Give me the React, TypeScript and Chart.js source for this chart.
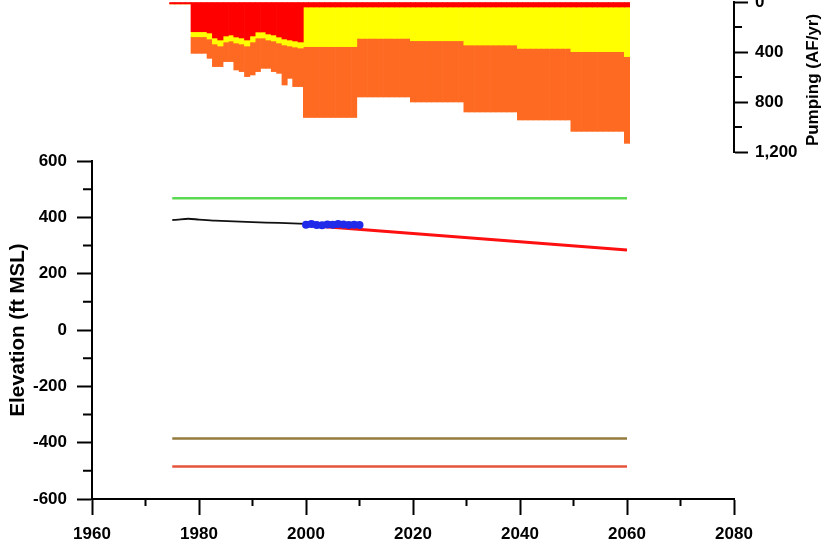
import React, { useEffect, useRef } from 'react';
import { Chart, registerables } from 'chart.js';

Chart.register(...registerables);

// ---------- Pumping (top panel), AF/yr per year, stacked ----------
const pumpYears: number[] = [];
for (let y = 1975; y <= 2060; y++) pumpYears.push(y);

const redPumping = [
  15, 15, 15, 15,
  238, 238, 238, 248, 288, 304, 272, 264, 280, 288, 304, 272, 240, 240, 256, 264, 280, 296, 304, 312, 320,
  40, 40, 40, 40, 40, 40, 40, 40, 40, 40,
  40, 40, 40, 40, 40, 40, 40, 40, 40, 40,
  40, 40, 40, 40, 40, 40, 40, 40, 40, 40,
  40, 40, 40, 40, 40, 40, 40, 40, 40, 40,
  40, 40, 40, 40, 40, 40, 40, 40, 40, 40,
  40, 40, 40, 40, 40, 40, 40, 40, 40, 40,
  40,
];
const yellowPumping = [
  0, 0, 0, 0,
  40, 40, 40, 48, 48, 48, 48, 48, 48, 48, 48, 48, 48, 48, 48, 48, 48, 48, 48, 48, 48,
  317, 317, 317, 317, 317, 317, 317, 317, 317, 317,
  251, 251, 251, 251, 251, 251, 251, 251, 251, 251,
  270, 270, 270, 270, 270, 270, 270, 270, 270, 270,
  304, 304, 304, 304, 304, 304, 304, 304, 304, 304,
  331, 331, 331, 331, 331, 331, 331, 331, 331, 331,
  357, 357, 357, 357, 357, 357, 357, 357, 357, 357,
  397,
];
const orangePumping = [
  0, 0, 0, 0,
  133, 133, 133, 155, 181, 165, 157, 165, 216, 221, 245, 264, 269, 243, 227, 245, 243, 320, 259, 317, 309,
  567, 567, 567, 567, 567, 567, 567, 567, 567, 567,
  469, 469, 469, 469, 469, 469, 469, 469, 469, 469,
  490, 490, 490, 490, 490, 490, 490, 490, 490, 490,
  536, 536, 536, 536, 536, 536, 536, 536, 536, 536,
  573, 573, 573, 573, 573, 573, 573, 573, 573, 573,
  638, 638, 638, 638, 638, 638, 638, 638, 638, 638,
  694,
];
const pumpMinorTicks = [200, 600, 1000];

// ---------- Elevation (bottom panel), ft MSL ----------
const histYears = [1975, 1976, 1978, 1980, 1983, 1990, 1995, 2000];
const histElev = [390, 392, 395, 392, 388, 383, 380, 377];

const obsYears = [2000, 2001, 2002, 2003, 2004, 2005, 2006, 2007, 2008, 2009, 2010];
const obsElev = [374, 376, 373, 372, 375, 374, 376, 375, 373, 374, 373];

const projYears = [2000, 2060];
const projElev = [372, 284];

const refYears = [1975, 2060];
const greenElev = [468, 468];
const brownElev = [-385, -385];
const orangeElev = [-485, -485];

const elevMinorTicks = [-500, -300, -100, 100, 300, 500];
const yearMinorTicks = [1970, 1990, 2010, 2030, 2050, 2070];

const FONT = "'Liberation Sans', Arial, Helvetica, sans-serif";

const pts = (xs: number[], ys: number[]) => xs.map((x, i) => ({ x, y: ys[i] }));

const minorTicks = (axisId: string, values: number[], len: number) => ({
  id: 'minor_' + axisId,
  afterDraw(chart: any) {
    const s = chart.scales[axisId];
    const a = chart.chartArea;
    const ctx = chart.ctx;
    ctx.save();
    ctx.strokeStyle = '#000';
    ctx.lineWidth = 2;
    ctx.beginPath();
    for (const v of values) {
      const p = s.getPixelForValue(v);
      if (s.isHorizontal()) {
        ctx.moveTo(p, a.bottom);
        ctx.lineTo(p, a.bottom + len);
      } else if (s.position === 'left') {
        ctx.moveTo(a.left - len, p);
        ctx.lineTo(a.left, p);
      } else {
        ctx.moveTo(a.right, p);
        ctx.lineTo(a.right + len, p);
      }
    }
    ctx.stroke();
    ctx.restore();
  },
});

const pumpTitle = {
  id: 'pumpTitle',
  afterDraw(chart: any) {
    const ctx = chart.ctx;
    const a = chart.chartArea;
    ctx.save();
    ctx.translate(813, (a.top + a.bottom) / 2 + 3);
    ctx.rotate(-Math.PI / 2);
    ctx.font = `bold 17px ${FONT}`;
    ctx.fillStyle = '#000';
    ctx.textAlign = 'center';
    ctx.textBaseline = 'middle';
    ctx.fillText('Pumping (AF/yr)', 0, 0);
    ctx.restore();
  },
};

export default function App() {
  const topRef = useRef<HTMLCanvasElement>(null);
  const botRef = useRef<HTMLCanvasElement>(null);

  useEffect(() => {
    const top = new Chart(topRef.current as HTMLCanvasElement, {
      type: 'bar',
      data: {
        datasets: [
          { label: 'Pumping A', data: pts(pumpYears, redPumping), backgroundColor: '#FF0000' },
          { label: 'Pumping B', data: pts(pumpYears, yellowPumping), backgroundColor: '#FFFF00' },
          { label: 'Pumping C', data: pts(pumpYears, orangePumping), backgroundColor: '#FF6A22' },
        ] as any,
      },
      options: {
        animation: false,
        responsive: false,
        layout: { padding: { left: 92, top: 2, right: 0, bottom: 18 } },
        plugins: { legend: { display: false }, tooltip: { enabled: false } },
        datasets: { bar: { barPercentage: 1, categoryPercentage: 1, borderWidth: 0 } } as any,
        scales: {
          x: { type: 'linear', min: 1960, max: 2080, display: false, stacked: true, offset: false },
          y: {
            position: 'right',
            reverse: true,
            min: 0,
            max: 1200,
            stacked: true,
            ticks: {
              stepSize: 400,
              color: '#000',
              padding: 7,
              font: { family: FONT, size: 17, weight: 'bold' },
              callback: (v: any) => Number(v).toLocaleString('en-US'),
            },
            grid: { drawOnChartArea: false, tickLength: 14, tickWidth: 2, tickColor: '#000' },
            border: { color: '#000', width: 2 },
            afterFit: (s: any) => {
              s.width = 90;
              s.paddingTop = 0;
              s.paddingBottom = 0;
            },
          },
        } as any,
      },
      plugins: [minorTicks('y', pumpMinorTicks, 8), pumpTitle],
    });

    const bot = new Chart(botRef.current as HTMLCanvasElement, {
      type: 'line',
      data: {
        datasets: [
          { label: 'Observed', data: pts(obsYears, obsElev), borderColor: '#1F2BE8', backgroundColor: '#1F2BE8', borderWidth: 6, pointRadius: 4, pointBorderWidth: 0 },
          { label: 'Historical', data: pts(histYears, histElev), borderColor: '#111111', borderWidth: 1.8, pointRadius: 0, tension: 0.3 },
          { label: 'Projected', data: pts(projYears, projElev), borderColor: '#FF1010', borderWidth: 3, pointRadius: 0 },
          { label: 'Ground surface', data: pts(refYears, greenElev), borderColor: '#5CD850', borderWidth: 2.5, pointRadius: 0 },
          { label: 'Top of screen', data: pts(refYears, brownElev), borderColor: '#957B3E', borderWidth: 2.5, pointRadius: 0 },
          { label: 'Bottom of screen', data: pts(refYears, orangeElev), borderColor: '#E5533D', borderWidth: 2.5, pointRadius: 0 },
        ] as any,
      },
      options: {
        animation: false,
        responsive: false,
        layout: { padding: { left: 0, top: 11, right: 90, bottom: 0 } },
        plugins: { legend: { display: false }, tooltip: { enabled: false } },
        scales: {
          x: {
            type: 'linear',
            min: 1960,
            max: 2080,
            ticks: {
              stepSize: 20,
              color: '#000',
              padding: 9,
              maxRotation: 0,
              font: { family: FONT, size: 17, weight: 'bold' },
              callback: (v: any) => String(v),
            },
            grid: { drawOnChartArea: false, tickLength: 16, tickWidth: 2, tickColor: '#000' },
            border: { color: '#000', width: 2 },
            afterFit: (s: any) => {
              s.height = 48;
              s.paddingLeft = 0;
              s.paddingRight = 0;
            },
          },
          y: {
            position: 'left',
            min: -600,
            max: 600,
            ticks: {
              stepSize: 200,
              color: '#000',
              padding: 10,
              font: { family: FONT, size: 17, weight: 'bold' },
            },
            title: {
              display: true,
              text: 'Elevation (ft MSL)',
              color: '#000',
              font: { family: FONT, size: 20.5, weight: 'bold' },
              padding: { top: 6, bottom: 0 },
            },
            grid: { drawOnChartArea: false, tickLength: 15, tickWidth: 2, tickColor: '#000' },
            border: { color: '#000', width: 2 },
            afterFit: (s: any) => {
              s.width = 92;
              s.paddingTop = 0;
              s.paddingBottom = 0;
            },
          },
        } as any,
      },
      plugins: [minorTicks('y', elevMinorTicks, 9), minorTicks('x', yearMinorTicks, 7)],
    });

    return () => {
      top.destroy();
      bot.destroy();
    };
  }, []);

  return (
    <div style={{ position: 'absolute', left: 0, top: 0, width: 824, height: 547, background: '#fff', overflow: 'hidden' }}>
      <canvas ref={topRef} width={824} height={170} style={{ position: 'absolute', left: 0, top: 0 }} />
      <canvas ref={botRef} width={824} height={397} style={{ position: 'absolute', left: 0, top: 150 }} />
    </div>
  );
}
